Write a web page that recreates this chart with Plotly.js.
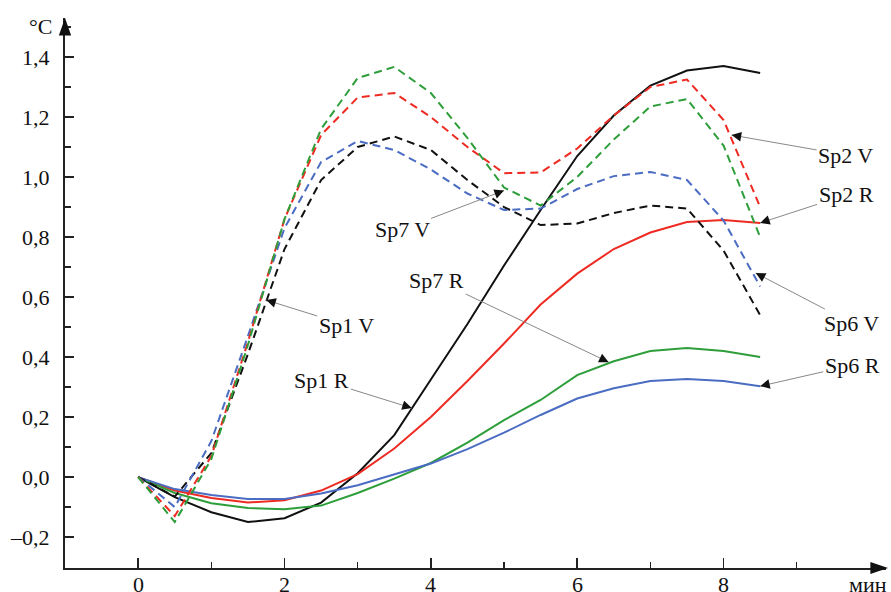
<!DOCTYPE html>
<html>
<head>
<meta charset="utf-8">
<script src="https://cdn.plot.ly/plotly-3.0.1.min.js"></script>
<style>
  html, body { margin: 0; padding: 0; background: #fff; }
  #chart { width: 891px; height: 592px; }
</style>
</head>
<body>
<div id="chart"></div>
<script>
// time, minutes
var t = [0, 0.5, 1, 1.5, 2, 2.5, 3, 3.5, 4, 4.5, 5, 5.5, 6, 6.5, 7, 7.5, 8, 8.5];

// temperature, °C  (V = dashed, R = solid)
var sp1V = [0, -0.065, 0.08, 0.41, 0.76, 0.99, 1.10, 1.135, 1.09, 0.99, 0.90, 0.84, 0.845, 0.88, 0.905, 0.895, 0.755, 0.54];
var sp2V = [0, -0.13, 0.07, 0.45, 0.86, 1.14, 1.265, 1.28, 1.20, 1.10, 1.013, 1.015, 1.095, 1.205, 1.30, 1.325, 1.19, 0.90];
var sp6V = [0, -0.10, 0.12, 0.47, 0.83, 1.05, 1.12, 1.09, 1.025, 0.945, 0.89, 0.895, 0.96, 1.003, 1.017, 0.99, 0.855, 0.635];
var sp7V = [0, -0.15, 0.06, 0.44, 0.86, 1.16, 1.33, 1.367, 1.28, 1.13, 0.965, 0.905, 1.0, 1.125, 1.235, 1.26, 1.105, 0.80];

var sp1R = [0, -0.067, -0.117, -0.15, -0.137, -0.085, 0.013, 0.14, 0.325, 0.51, 0.705, 0.89, 1.07, 1.205, 1.305, 1.355, 1.37, 1.347];
var sp2R = [0, -0.045, -0.07, -0.085, -0.077, -0.045, 0.01, 0.095, 0.20, 0.32, 0.445, 0.575, 0.678, 0.76, 0.815, 0.85, 0.857, 0.847];
var sp6R = [0, -0.04, -0.06, -0.073, -0.073, -0.055, -0.027, 0.01, 0.045, 0.093, 0.148, 0.207, 0.262, 0.296, 0.32, 0.327, 0.32, 0.303];
var sp7R = [0, -0.053, -0.087, -0.103, -0.107, -0.095, -0.053, -0.005, 0.047, 0.115, 0.19, 0.257, 0.34, 0.386, 0.42, 0.43, 0.42, 0.40];

// tick labels
var xTickVals = [0, 2, 4, 6, 8];
var xTickText = ['0', '2', '4', '6', '8'];
var xMinorVals = [1, 3, 5, 7, 9];
var yTickVals = [-0.2, 0, 0.2, 0.4, 0.6, 0.8, 1.0, 1.2, 1.4];
var yTickText = ['\u20130,2', '0,0', '0,2', '0,4', '0,6', '0,8', '1,0', '1,2', '1,4'];
var yMinorVals = [-0.3, -0.1, 0.1, 0.3, 0.5, 0.7, 0.9, 1.1, 1.3, 1.5];

// series labels: text, tip point (data), text offset (px)
var labels = [
  {text: 'Sp2 V', x: 8.11, y: 1.14,  ax: 114, ay: 20},
  {text: 'Sp2 R', x: t[17], y: sp2R[17], ax: 86, ay: -28},
  {text: 'Sp6 V', x: 8.44, y: 0.68,  ax: 96,  ay: 50},
  {text: 'Sp6 R', x: t[17], y: sp6R[17], ax: 92, ay: -21},
  {text: 'Sp7 V', x: 5.0,  y: 0.955, ax: -102, ay: 39},
  {text: 'Sp7 R', x: 6.43, y: 0.383, ax: -172, ay: -82},
  {text: 'Sp1 V', x: 1.75, y: 0.59,  ax: 80,  ay: 25},
  {text: 'Sp1 R', x: 3.74, y: 0.23,  ax: -90, ay: -28}
];

var BLACK = '#111111', RED = '#ee2b22', BLUE = '#4a6cc2', GREEN = '#2e9e3a';
var DASH = '8px,5px';

function tr(y, color, dashed) {
  return {
    x: t, y: y, type: 'scatter', mode: 'lines',
    line: {color: color, width: 2, dash: dashed ? DASH : 'solid', shape: 'linear'},
    hoverinfo: 'skip'
  };
}

var data = [
  tr(sp1R, BLACK, false), tr(sp2R, RED, false), tr(sp7R, GREEN, false), tr(sp6R, BLUE, false),
  tr(sp1V, BLACK, true), tr(sp6V, BLUE, true), tr(sp2V, RED, true), tr(sp7V, GREEN, true)
];

var serif = 'Liberation Serif, Times New Roman, serif';
var annotations = [];
labels.forEach(function (l) {
  annotations.push({
    x: l.x, y: l.y, xref: 'x', yref: 'y', ax: l.ax, ay: l.ay,
    text: l.text, showarrow: true, arrowhead: 0, arrowwidth: 1, arrowcolor: '#888',
    font: {family: serif, size: 22, color: BLACK}
  });
  var len = Math.sqrt(l.ax * l.ax + l.ay * l.ay);
  annotations.push({
    x: l.x, y: l.y, xref: 'x', yref: 'y', ax: l.ax / len * 12, ay: l.ay / len * 12,
    text: ' ', showarrow: true, arrowhead: 2, arrowsize: 1.6, arrowwidth: 1.2, arrowcolor: BLACK
  });
});
// x tick labels (placed as annotations for exact vertical position)
xTickVals.forEach(function (v, i) {
  annotations.push({
    x: v, y: -0.004, xref: 'x', yref: 'paper', text: xTickText[i], showarrow: false,
    xanchor: 'center', yanchor: 'top', font: {family: serif, size: 22, color: BLACK}
  });
});
annotations.push({
  x: -0.03, y: 0.985, xref: 'paper', yref: 'paper', text: '\u00B0C', showarrow: false,
  xanchor: 'center', yanchor: 'middle', font: {family: serif, size: 22, color: BLACK}
});
annotations.push({
  x: 0.978, y: -0.004, xref: 'paper', yref: 'paper', text: '\u043C\u0438\u043D', showarrow: false,
  xanchor: 'center', yanchor: 'top', font: {family: serif, size: 22, color: BLACK}
});

var layout = {
  width: 891, height: 592,
  margin: {l: 65, r: 5, t: 18, b: 24, pad: 0},
  paper_bgcolor: '#ffffff', plot_bgcolor: '#ffffff',
  showlegend: false,
  xaxis: {
    range: [-1, 10.22], showline: true, linecolor: '#222', linewidth: 2,
    ticks: 'inside', ticklen: 10, tickwidth: 1.5, tickcolor: '#222',
    tickmode: 'array', tickvals: xTickVals, ticktext: xTickText, showticklabels: false,
    minor: {tickmode: 'array', tickvals: xMinorVals, ticks: 'inside', ticklen: 6, tickwidth: 1.5, tickcolor: '#222', showgrid: false},
    showgrid: false, zeroline: false, automargin: false, fixedrange: true
  },
  yaxis: {
    range: [-0.303, 1.53], showline: true, linecolor: '#222', linewidth: 2,
    ticks: 'inside', ticklen: 9, tickwidth: 1.5, tickcolor: '#222',
    tickmode: 'array', tickvals: yTickVals, ticktext: yTickText,
    minor: {tickmode: 'array', tickvals: yMinorVals, ticks: 'inside', ticklen: 6, tickwidth: 1.5, tickcolor: '#222', showgrid: false},
    showgrid: false, zeroline: false, automargin: false, fixedrange: true,
    ticklabelstandoff: 9,
    tickfont: {family: serif, size: 22, color: BLACK}
  },
  shapes: [
    {type: 'path', xref: 'paper', yref: 'paper', path: 'M 0 1 L -0.0075 0.968 L 0.0075 0.968 Z', fillcolor: BLACK, line: {width: 0}},
    {type: 'path', xref: 'paper', yref: 'paper', path: 'M 1.0025 0 L 0.981 0.011 L 0.981 -0.011 Z', fillcolor: BLACK, line: {width: 0}}
  ],
  annotations: annotations
};

Plotly.newPlot('chart', data, layout, {staticPlot: true, displayModeBar: false});
</script>
</body>
</html>
